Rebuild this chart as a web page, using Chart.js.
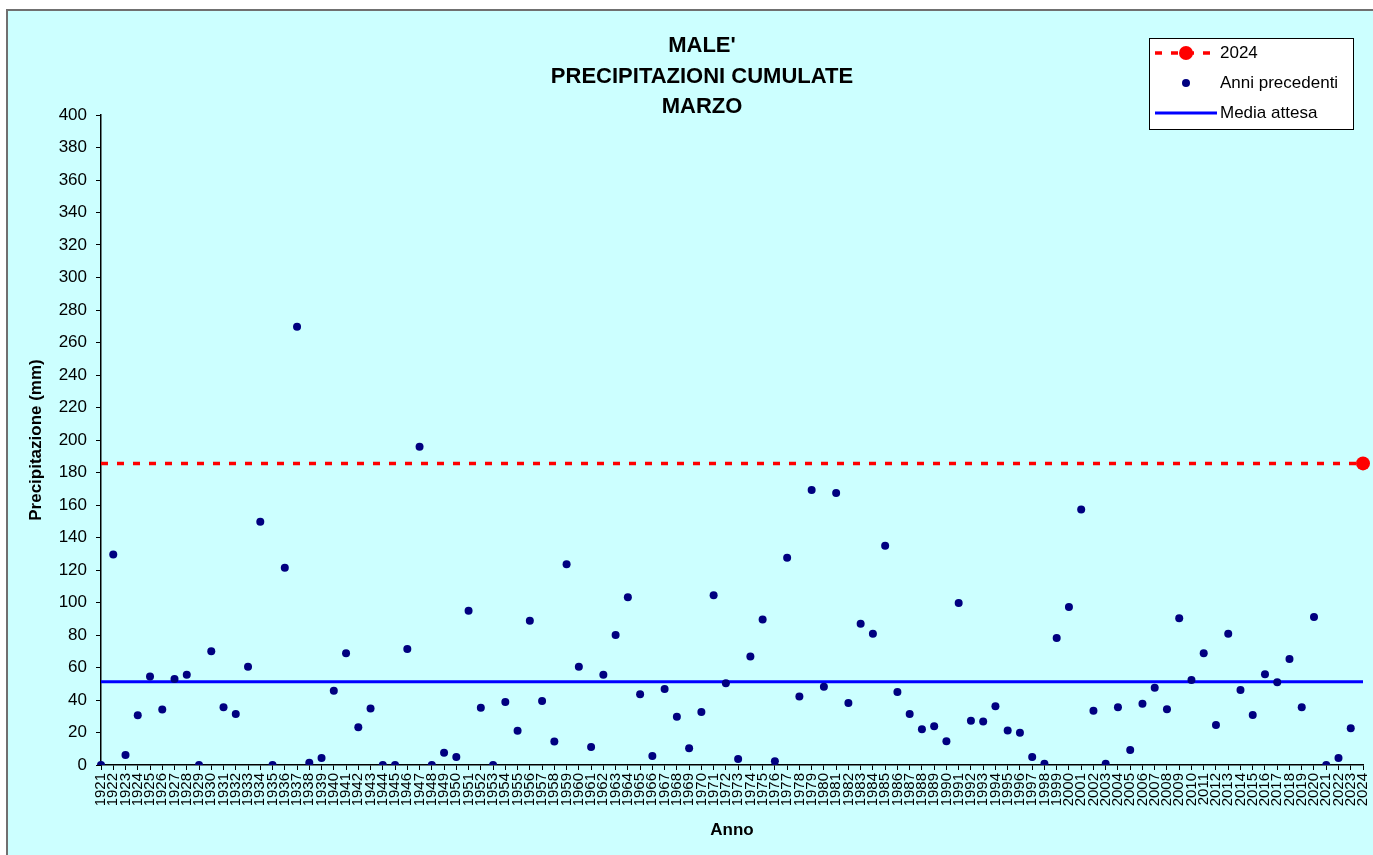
<!DOCTYPE html>
<html lang="it">
<head>
<meta charset="utf-8">
<title>Male' - precipitazioni cumulate marzo</title>
<script src="https://cdn.jsdelivr.net/npm/chart.js@4/dist/chart.umd.min.js"></script>
<style>
    html, body { margin: 0; padding: 0; background: #ffffff; overflow: hidden; }
    canvas { display: block; }
</style>
</head>
<body>
<canvas id="grafico" width="1373" height="855"></canvas>
<script>
const anni = [
    '1921', '1922', '1923', '1924', '1925', '1926', '1927', '1928', '1929', '1930',
    '1931', '1932', '1933', '1934', '1935', '1936', '1937', '1938', '1939', '1940',
    '1941', '1942', '1943', '1944', '1945', '1946', '1947', '1948', '1949', '1950',
    '1951', '1952', '1953', '1954', '1955', '1956', '1957', '1958', '1959', '1960',
    '1961', '1962', '1963', '1964', '1965', '1966', '1967', '1968', '1969', '1970',
    '1971', '1972', '1973', '1974', '1975', '1976', '1977', '1978', '1979', '1980',
    '1981', '1982', '1983', '1984', '1985', '1986', '1987', '1988', '1989', '1990',
    '1991', '1992', '1993', '1994', '1995', '1996', '1997', '1998', '1999', '2000',
    '2001', '2002', '2003', '2004', '2005', '2006', '2007', '2008', '2009', '2010',
    '2011', '2012', '2013', '2014', '2015', '2016', '2017', '2018', '2019', '2020',
    '2021', '2022', '2023', '2024'
];

// anni precedenti, dal 1921 al 2023 (mm)
const precipitazioni = [
    0, 129.6, 6.2, 30.6, 54.4, 34.1, 52.9, 55.6, 0, 70.0,
    35.5, 31.4, 60.5, 149.7, 0, 121.4, 269.7, 1.4, 4.3, 45.7,
    68.7, 23.2, 34.7, 0, 0, 71.4, 195.9, 0, 7.6, 4.9,
    95.0, 35.3, 0, 38.8, 21.1, 88.8, 39.4, 14.4, 123.5, 60.5,
    11.1, 55.6, 80.0, 103.2, 43.5, 5.5, 46.8, 29.7, 10.3, 32.6,
    104.4, 50.3, 3.7, 66.7, 89.6, 2.3, 127.6, 42.1, 169.2, 48.2,
    167.4, 38.2, 87.0, 80.8, 135.0, 44.9, 31.4, 22.0, 23.8, 14.6,
    99.7, 27.3, 26.7, 36.1, 21.3, 19.9, 4.9, 0.8, 78.2, 97.2,
    157.3, 33.4, 0.8, 35.5, 9.2, 37.7, 47.6, 34.3, 90.3, 52.3,
    68.7, 24.6, 80.8, 46.2, 30.8, 55.8, 50.9, 65.2, 35.5, 91.1,
    0, 4.3, 22.6
];

const valore2024 = 185.6;
const mediaAttesa = 51.3;

const titolo = ["MALE'", 'PRECIPITAZIONI CUMULATE', 'MARZO'];

const FONT = "'Liberation Sans', Arial, sans-serif";
const ROSSO = '#ff0000';
const BLU_SCURO = '#000080';
const BLU = '#0000ff';

// sfondo azzurro con cornice grigia
const sfondoPlugin = {
    id: 'sfondo',
    beforeDraw(chart) {
        const ctx = chart.ctx;
        const w = chart.width;
        const h = chart.height;
        ctx.save();
        ctx.fillStyle = '#ffffff';
        ctx.fillRect(0, 0, w, h);
        ctx.fillStyle = '#ccffff';
        ctx.fillRect(7, 10, w - 7, h - 10);
        ctx.strokeStyle = '#707070';
        ctx.lineWidth = 2;
        ctx.beginPath();
        ctx.moveTo(7, h);
        ctx.lineTo(7, 10);
        ctx.lineTo(w, 10);
        ctx.stroke();
        ctx.restore();
    }
};

const titoloPlugin = {
    id: 'titolo',
    afterDraw(chart) {
        const ctx = chart.ctx;
        const righe = [46, 77, 107];
        ctx.save();
        ctx.fillStyle = '#000000';
        ctx.font = 'bold 22px ' + FONT;
        ctx.textAlign = 'center';
        ctx.textBaseline = 'middle';
        titolo.forEach(function (testo, i) {
            ctx.fillText(testo, 702, righe[i]);
        });
        ctx.restore();
    }
};

const legendaPlugin = {
    id: 'legenda',
    afterDraw(chart) {
        const ctx = chart.ctx;
        const ds = chart.data.datasets;
        const x0 = 1155, x1 = 1217, xm = 1186, xt = 1220;
        ctx.save();
        ctx.fillStyle = '#ffffff';
        ctx.fillRect(1149, 38, 204, 91);
        ctx.strokeStyle = '#000000';
        ctx.lineWidth = 1;
        ctx.strokeRect(1149.5, 38.5, 204, 91);

        // 2024
        ctx.strokeStyle = ROSSO;
        ctx.lineWidth = 3.5;
        ctx.setLineDash([7, 9]);
        ctx.beginPath();
        ctx.moveTo(x0, 53);
        ctx.lineTo(x1, 53);
        ctx.stroke();
        ctx.setLineDash([]);
        ctx.fillStyle = ROSSO;
        ctx.beginPath();
        ctx.arc(xm, 53, 7, 0, Math.PI * 2);
        ctx.fill();

        // anni precedenti
        ctx.fillStyle = BLU_SCURO;
        ctx.beginPath();
        ctx.arc(xm, 83, 4, 0, Math.PI * 2);
        ctx.fill();

        // media attesa
        ctx.strokeStyle = BLU;
        ctx.lineWidth = 3;
        ctx.beginPath();
        ctx.moveTo(x0, 113);
        ctx.lineTo(x1, 113);
        ctx.stroke();

        ctx.fillStyle = '#000000';
        ctx.font = '17px ' + FONT;
        ctx.textAlign = 'left';
        ctx.textBaseline = 'middle';
        ctx.fillText(ds[0].label, xt, 53);
        ctx.fillText(ds[1].label, xt, 83);
        ctx.fillText(ds[2].label, xt, 113);
        ctx.restore();
    }
};

const primoAnno = anni[0];
const ultimoAnno = anni[anni.length - 1];

new Chart(document.getElementById('grafico'), {
    type: 'line',
    data: {
        labels: anni,
        datasets: [{
            label: '2024',
            data: [
                { x: primoAnno, y: valore2024 },
                { x: ultimoAnno, y: valore2024 }
            ],
            borderColor: ROSSO,
            borderWidth: 3.5,
            borderDash: [7, 9],
            backgroundColor: ROSSO,
            pointRadius: [0, 7],
            pointBorderWidth: 0,
            fill: false
        }, {
            label: 'Anni precedenti',
            data: precipitazioni,
            showLine: false,
            backgroundColor: BLU_SCURO,
            borderColor: BLU_SCURO,
            pointRadius: 4,
            pointBorderWidth: 0
        }, {
            label: 'Media attesa',
            data: [
                { x: primoAnno, y: mediaAttesa },
                { x: ultimoAnno, y: mediaAttesa }
            ],
            borderColor: BLU,
            borderWidth: 3,
            pointRadius: 0,
            fill: false
        }]
    },
    options: {
        responsive: false,
        animation: false,
        layout: {
            padding: { top: 115, left: 22, right: 1, bottom: 10 }
        },
        plugins: {
            legend: { display: false },
            title: { display: false },
            tooltip: { enabled: false }
        },
        scales: {
            x: {
                offset: false,
                grid: {
                    drawOnChartArea: false,
                    drawTicks: true,
                    tickLength: 5,
                    tickColor: '#000000',
                    offset: false
                },
                border: { display: true, color: '#000000', width: 1.5 },
                ticks: {
                    autoSkip: false,
                    maxRotation: 90,
                    minRotation: 90,
                    padding: 3,
                    color: '#000000',
                    font: { family: FONT, size: 15 }
                },
                title: {
                    display: true,
                    text: 'Anno',
                    color: '#000000',
                    font: { family: FONT, size: 17, weight: 'bold' },
                    padding: { top: 10, bottom: 4 }
                },
                afterFit(scale) {
                    scale.height = 80;
                    scale.paddingRight = 10;
                }
            },
            y: {
                min: 0,
                max: 400,
                grid: {
                    drawOnChartArea: false,
                    drawTicks: true,
                    tickLength: 5,
                    tickColor: '#000000'
                },
                border: { display: true, color: '#000000', width: 1.5 },
                ticks: {
                    stepSize: 20,
                    padding: 9,
                    color: '#000000',
                    font: { family: FONT, size: 17 }
                },
                title: {
                    display: true,
                    text: 'Precipitazione (mm)',
                    color: '#000000',
                    font: { family: FONT, size: 17, weight: 'bold' },
                    padding: { top: 4, bottom: 4 }
                },
                afterFit(scale) {
                    scale.width = 79;
                }
            }
        }
    },
    plugins: [sfondoPlugin, titoloPlugin, legendaPlugin]
});
</script>
</body>
</html>
